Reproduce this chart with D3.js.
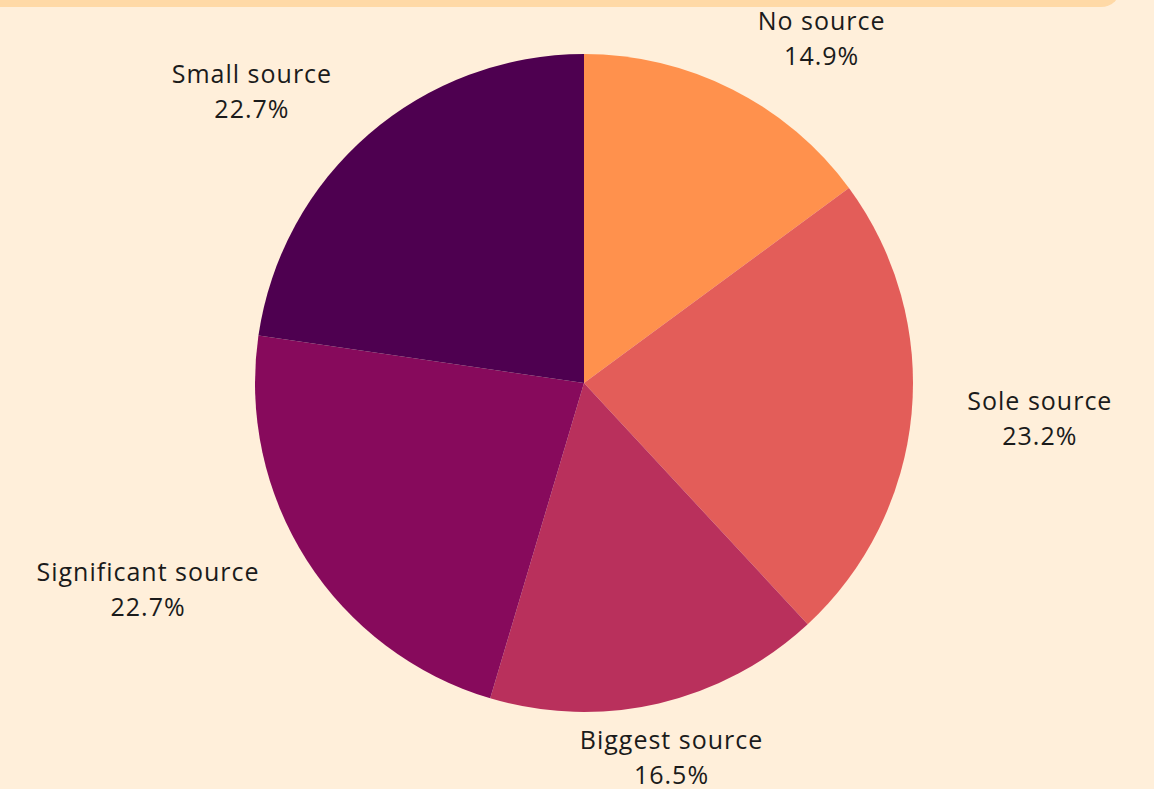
<!DOCTYPE html>
<html>
<head>
<meta charset="utf-8">
<script src="https://cdn.jsdelivr.net/npm/d3@7"></script>
<style>
  html, body { margin: 0; padding: 0; background: #FFEFDA; }
  svg { display: block; }
</style>
</head>
<body>
<svg id="chart" width="1154" height="789"></svg>
<script>
// Share of income by source category
const categories = ["No source", "Sole source", "Biggest source", "Significant source", "Small source"];
const shares = [14.9, 23.2, 16.5, 22.7, 22.7];
const sliceColors = ["#FF914D", "#E35D59", "#B9305C", "#870A5C", "#4E0050"];

const W = 1154, H = 789;
const cx = 584, cy = 383, radius = 329;
const labelGap = 56;

const svg = d3.select("#chart");

// header strip across the top
svg.append("rect")
  .attr("x", -40).attr("y", -60)
  .attr("width", 1161).attr("height", 67)
  .attr("rx", 20).attr("ry", 20)
  .attr("fill", "#FFD9A6");

const pie = d3.pie().value(d => d).sort(null);
const arc = d3.arc().innerRadius(0).outerRadius(radius);
const arcs = pie(shares);

const g = svg.append("g").attr("transform", `translate(${cx},${cy})`);

g.selectAll("path.slice")
  .data(arcs)
  .join("path")
  .attr("class", "slice")
  .attr("d", arc)
  .attr("fill", (d, i) => sliceColors[i]);

const fmt = d3.format(".1f");

const labels = g.selectAll("text.label")
  .data(arcs)
  .join("text")
  .attr("class", "label")
  .attr("font-family", "'Open Sans', sans-serif")
  .attr("font-size", 25)
  .attr("letter-spacing", 1)
  .attr("fill", "#1b1b1b");

labels.each(function(d, i) {
  const t = d3.select(this);
  const mid = (d.startAngle + d.endAngle) / 2;
  const rr = radius + labelGap;
  const x = rr * Math.sin(mid);
  const y = -rr * Math.cos(mid);
  const s = Math.sin(mid);
  const anchor = Math.abs(s) < 0.3 ? "middle" : (s > 0 ? "start" : "end");
  t.attr("text-anchor", "middle");
  t.append("tspan").attr("x", 0).attr("y", -9).text(categories[i]);
  t.append("tspan").attr("x", 0).attr("y", 26).text(fmt(d.data) + "%");
  // shift horizontally so side labels sit clear of the circle
  const w = this.getBBox().width;
  const dx = anchor === "start" ? w / 2 : anchor === "end" ? -w / 2 : 0;
  t.attr("transform", `translate(${x + dx},${y})`);
});
</script>
</body>
</html>
